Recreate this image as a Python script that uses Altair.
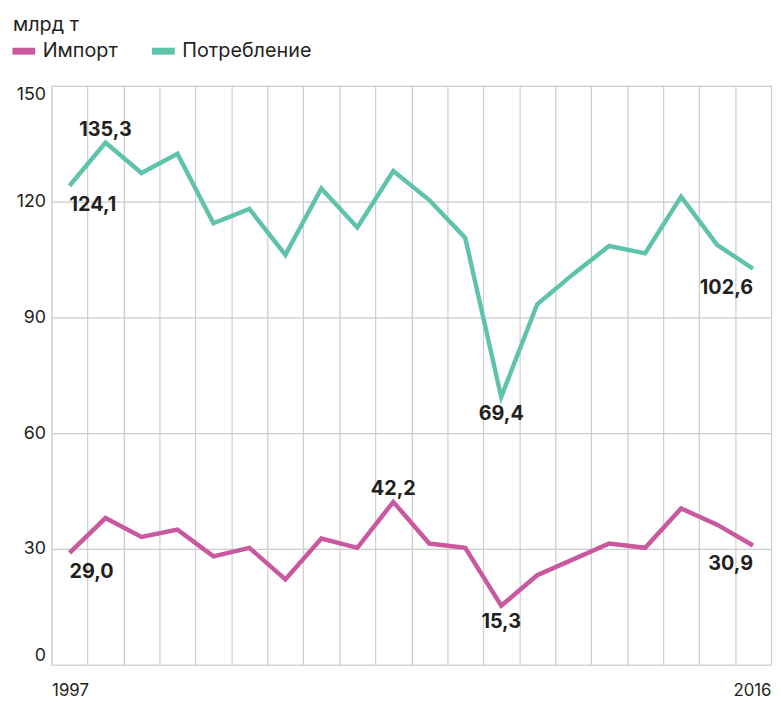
import altair as alt
import pandas as pd

years = list(range(1997, 2017))
imports = [29.0, 38.0, 33.1, 35.0, 28.1, 30.3, 22.1, 32.7, 30.3, 42.2,
           31.4, 30.3, 15.3, 23.2, 27.3, 31.4, 30.3, 40.5, 36.3, 30.9]
consumption = [124.1, 135.3, 127.4, 132.4, 114.4, 118.1, 106.2, 123.4, 113.3, 127.9,
               120.4, 110.6, 69.4, 93.4, 101.2, 108.5, 106.6, 121.3, 108.8, 102.6]
series_names = ["Импорт", "Потребление"]
series_colors = ["#c9589f", "#5fc3ab"]
y_ticks = [0, 30, 60, 90, 120, 150]
x_first, x_last = 1997, 2016

# annotated points
lab_left_below = [("Потребление", 1997), ("Импорт", 1997)]
lab_center_above = [("Потребление", 1998), ("Импорт", 2006)]
lab_center_below = [("Потребление", 2009), ("Импорт", 2009)]
lab_right_below = [("Потребление", 2016), ("Импорт", 2016)]

df = pd.DataFrame({
    "year": years * 2,
    "value": imports + consumption,
    "series": [series_names[0]] * len(years) + [series_names[1]] * len(years),
})

FONT = "Inter"
TXT = "#231f20"

grid_x = [y - 0.5 for y in years] + [years[-1] + 0.5]

x_enc = alt.X(
    "year:Q",
    scale=alt.Scale(domain=[years[0] - 0.5, years[-1] + 0.5], nice=False, zero=False),
    axis=alt.Axis(
        values=grid_x,
        labelExpr=f"datum.value == {x_first - 0.5} ? '{x_first}' : (datum.value == {x_last + 0.5} ? '{x_last}' : '')",
        labelFlush=True,
        grid=True,
        ticks=False,
        domain=False,
        title=None,
        labelFontSize=17,
        labelPadding=18,
        labelColor=TXT,
        labelFont=FONT,
        gridColor="#cccccc",
        gridWidth=1.2,
        labelOverlap=False,
    ),
)
y_enc = alt.Y(
    "value:Q",
    scale=alt.Scale(domain=[0, 150], nice=False, zero=True),
    axis=alt.Axis(
        values=y_ticks,
        labelFlush=True,
        grid=True,
        ticks=False,
        domain=False,
        title=None,
        labelFontSize=18,
        labelPadding=6,
        labelColor=TXT,
        labelFont=FONT,
        gridColor="#cccccc",
        gridWidth=1.2,
    ),
)

base = alt.Chart(df)

lines = base.mark_line(strokeWidth=4.5, strokeJoin="miter").encode(
    x=x_enc,
    y=y_enc,
    color=alt.Color(
        "series:N",
        scale=alt.Scale(domain=series_names, range=series_colors),
        legend=alt.Legend(
            title=None,
            orient="none",
            legendX=-43,
            legendY=-50,
            direction="horizontal",
            symbolType="stroke",
            symbolStrokeWidth=7,
            symbolSize=529,
            labelFontSize=20,
            labelFont=FONT,
            labelColor=TXT,
            labelOffset=4,
            columnPadding=20,
        ),
    ),
)


def label_layer(pairs, align, dx, dy):
    sub = pd.concat([df[(df.series == s) & (df.year == yr)] for s, yr in pairs])
    return (
        alt.Chart(sub)
        .transform_calculate(label="replace(format(datum.value, '.1f'), '.', ',')")
        .mark_text(align=align, baseline="alphabetic", dx=dx, dy=dy,
                   font=FONT, fontSize=20, fontWeight="bold", color=TXT)
        .encode(x=x_enc, y=y_enc, text="label:N")
    )


chart = alt.layer(
    lines,
    label_layer(lab_left_below, "left", 0, 25),
    label_layer(lab_center_above, "center", 0, -7),
    label_layer(lab_center_below, "center", 0, 23),
    label_layer(lab_right_below, "right", 0, 25),
).properties(
    width=727,
    height=585,
    padding={"left": 44, "top": 75, "right": 2, "bottom": 34},
    autosize=alt.AutoSizeParams(type="none"),
    title=alt.TitleParams(
        "млрд т", anchor="start", frame="group", fontSize=20, fontWeight="normal",
        font=FONT, color=TXT, dx=-39, offset=1,
    ),
    background="white",
).configure_view(stroke=None).configure(font=FONT)

chart.save("out.html", embed_options={"renderer": "svg", "actions": False})
